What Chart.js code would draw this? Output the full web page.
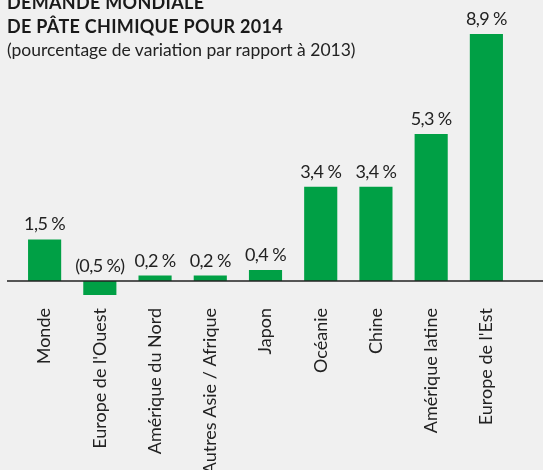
<!DOCTYPE html>
<html lang="fr">
<head>
    <meta charset="UTF-8">
    <title>Demande mondiale de pâte chimique pour 2014</title>
    <script src="https://cdn.jsdelivr.net/npm/chart.js"></script>
    <style>
        html, body { margin: 0; padding: 0; background: #f0f0f0; }
        .wrap { position: relative; width: 543px; height: 470px; overflow: hidden; font-family: Lato, sans-serif; }
        .title { position: absolute; left: 7px; top: -10px; font-weight: bold; font-size: 18px; line-height: 24px; letter-spacing: 0.3px; color: #1a1a1a; white-space: nowrap; }
        .subtitle { position: absolute; left: 7px; top: 39px; font-size: 17.5px; line-height: 1.2; color: #222; white-space: nowrap; }
        canvas { position: absolute; left: 0; top: 0; }
    </style>
</head>
<body>
    <div class="wrap">
        <canvas id="chart" width="543" height="470"></canvas>
        <div class="title">DEMANDE MONDIALE<br>DE PÂTE CHIMIQUE POUR 2014</div>
        <div class="subtitle">(pourcentage de variation par rapport à 2013)</div>
    </div>

    <script>
        // Regions and % change vs 2013
        const regions = ['Monde', "Europe de l'Ouest", 'Amérique du Nord', 'Autres Asie / Afrique', 'Japon',
                         'Océanie', 'Chine', 'Amérique latine', "Europe de l'Est"];
        const variation = [1.5, -0.5, 0.2, 0.2, 0.4, 3.4, 3.4, 5.3, 8.9];

        function fmt(v) {
            const s = Math.abs(v).toFixed(1).replace('.', ',') + ' %';
            return v < 0 ? '(' + s + ')' : s;
        }

        // value labels over the bars + the zero line
        const extras = {
            id: 'extras',
            afterDatasetsDraw(chart) {
                const ctx = chart.ctx;
                const y = chart.scales.y;
                const zero = y.getPixelForValue(0);
                ctx.save();
                ctx.strokeStyle = '#222';
                ctx.lineWidth = 1.5;
                ctx.beginPath();
                ctx.moveTo(7, zero);
                ctx.lineTo(chart.width, zero);
                ctx.stroke();

                ctx.fillStyle = '#222';
                ctx.font = '18px Lato';
                if ('letterSpacing' in ctx) ctx.letterSpacing = '-0.6px';
                ctx.textAlign = 'center';
                ctx.textBaseline = 'alphabetic';
                chart.getDatasetMeta(0).data.forEach((bar, i) => {
                    const v = variation[i];
                    const top = v < 0 ? zero : bar.y;
                    ctx.fillText(fmt(v), bar.x, top - 9);
                });
                ctx.restore();
            }
        };

        new Chart(document.getElementById('chart'), {
            type: 'bar',
            data: {
                labels: regions,
                datasets: [{
                    data: variation,
                    backgroundColor: '#00a045',
                    barPercentage: 0.6,
                    categoryPercentage: 1
                }]
            },
            options: {
                responsive: false,
                animation: false,
                layout: { padding: { left: 17, right: 29, top: 34, bottom: 0 } },
                plugins: { legend: { display: false }, tooltip: { enabled: false } },
                scales: {
                    x: {
                        grid: { display: false, drawTicks: false },
                        border: { display: false },
                        afterFit(scale) { scale.height = 175; },
                        ticks: {
                            autoSkip: false,
                            minRotation: 90,
                            maxRotation: 90,
                            padding: 13,
                            color: '#222',
                            font: { family: 'Lato', size: 18 }
                        }
                    },
                    y: {
                        display: false,
                        min: -0.5,
                        max: 8.9
                    }
                }
            },
            plugins: [extras]
        });
    </script>
</body>
</html>
